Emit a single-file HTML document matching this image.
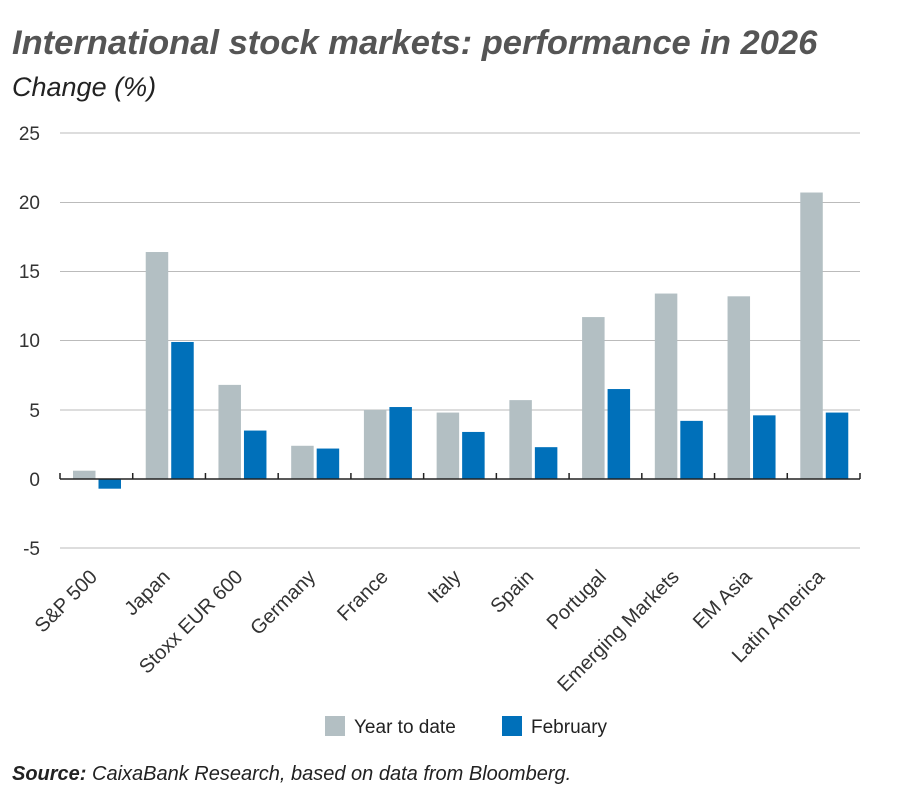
<!DOCTYPE html><html><head><style>body{margin:0;background:#fff}svg{display:block}text{font-family:"Liberation Sans",sans-serif}</style></head><body>
<svg width="900" height="794" xmlns="http://www.w3.org/2000/svg">
<text x="12" y="54" font-size="34.5" font-weight="bold" font-style="italic" fill="#555">International stock markets: performance in 2026</text>
<text x="12" y="96" font-size="27" font-style="italic" fill="#222">Change (%)</text>
<g stroke="#bbb" stroke-width="1">
<line x1="60" x2="860" y1="133" y2="133"/><line x1="60" x2="860" y1="202.5" y2="202.5"/><line x1="60" x2="860" y1="271.5" y2="271.5"/><line x1="60" x2="860" y1="340.5" y2="340.5"/><line x1="60" x2="860" y1="410" y2="410"/><line x1="60" x2="860" y1="548" y2="548"/>
</g>
<g font-size="19" fill="#333" text-anchor="end">
<text x="40" y="140">25</text><text x="40" y="209">20</text><text x="40" y="278">15</text><text x="40" y="347">10</text><text x="40" y="417">5</text><text x="40" y="486">0</text><text x="40" y="555">-5</text>
</g>
<g id="bars"></g>
<line x1="60" x2="860" y1="479" y2="479" stroke="#222" stroke-width="1.5"/>
<g id="ticks" stroke="#222" stroke-width="1.5"></g>
<g id="labels" font-size="20" fill="#333" text-anchor="end"></g>
<rect x="325" y="716" width="20" height="20" fill="#b3bfc3"/><text x="354" y="733" font-size="19" fill="#222">Year to date</text>
<rect x="502" y="716" width="20" height="20" fill="#0070ba"/><text x="531" y="733" font-size="19" fill="#222">February</text>
<text x="12" y="780" font-size="20" font-style="italic" fill="#222"><tspan font-weight="bold">Source:</tspan> CaixaBank Research, based on data from Bloomberg.</text>
</svg>
<script>
var d=[["S&P 500",0.6,-0.7],["Japan",16.4,9.9],["Stoxx EUR 600",6.8,3.5],["Germany",2.4,2.2],["France",5.0,5.2],["Italy",4.8,3.4],["Spain",5.7,2.3],["Portugal",11.7,6.5],["Emerging Markets",13.4,4.2],["EM Asia",13.2,4.6],["Latin America",20.7,4.8]];
var ns="http://www.w3.org/2000/svg",s=13.84,z=479,w=800/11;
function el(t,a,p){var e=document.createElementNS(ns,t);for(var k in a)e.setAttribute(k,a[k]);document.getElementById(p).appendChild(e);return e;}
d.forEach(function(r,i){var x0=60+i*w;
[[r[1],"#b3bfc3",x0+13],[r[2],"#0070ba",x0+38.5]].forEach(function(b){var h=b[0]*s;el("rect",{x:b[2],y:h>0?z-h:z,width:22.5,height:Math.abs(h),fill:b[1]},"bars");});
el("line",{x1:x0,x2:x0,y1:z-6,y2:z},"ticks");
var c=x0+w/2+2,y=578;var t=el("text",{x:c,y:y,transform:"rotate(-45 "+c+" "+y+")"},"labels");t.textContent=r[0];});
el("line",{x1:860,x2:860,y1:z-6,y2:z},"ticks");
</script>
</body></html>
